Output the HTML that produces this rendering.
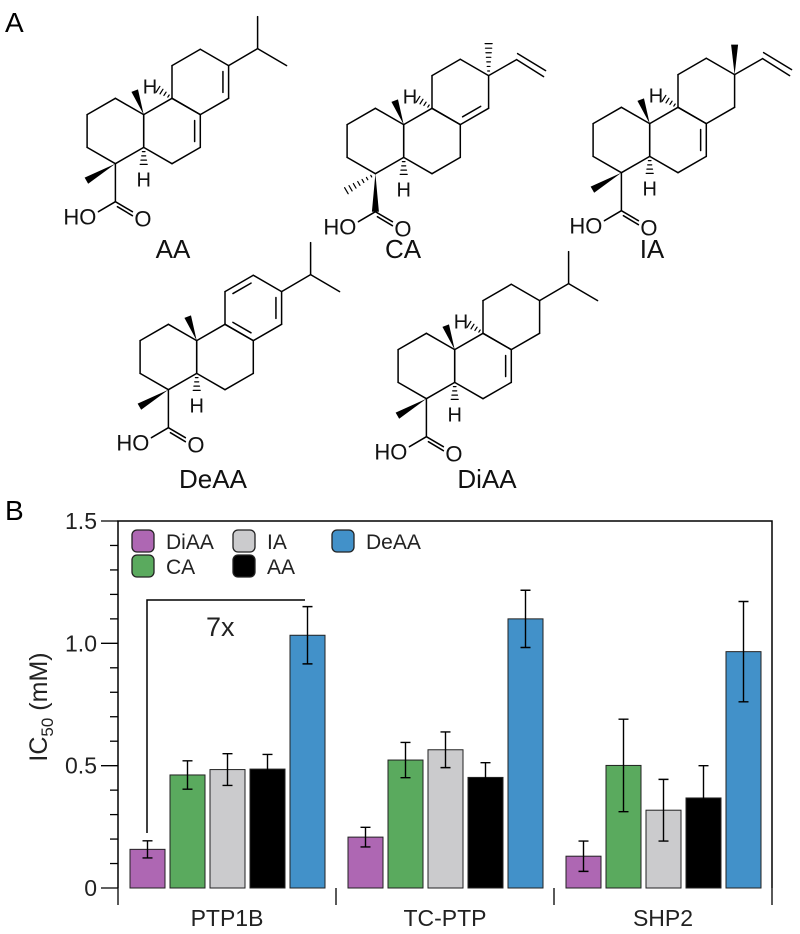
<!DOCTYPE html>
<html><head><meta charset="utf-8"><style>
html,body{margin:0;padding:0;background:#fff;}
svg{display:block;font-family:"Liberation Sans",sans-serif;}
</style></head><body>
<svg id="fig" width="800" height="934" viewBox="0 0 800 934" xmlns="http://www.w3.org/2000/svg">
<text x="5" y="32" font-size="28">A</text>
<text x="5" y="520" font-size="28">B</text>
<g id="mols"></g>
<g id="chart"></g>
</svg>
<script>
// ---------- chart data ----------
const categories = ['PTP1B','TC-PTP','SHP2'];
const seriesNames = ['DiAA','CA','IA','AA','DeAA'];
const seriesColors = ['#ae67b3','#5aaa5e','#cbcbcd','#000000','#4291c9'];
const valDiAA = [0.158,0.208,0.130];
const valCA   = [0.462,0.523,0.501];
const valIA   = [0.484,0.565,0.318];
const valAA   = [0.486,0.452,0.368];
const valDeAA = [1.033,1.100,0.966];
const errDiAA = [0.035,0.040,0.062];
const errCA   = [0.058,0.072,0.189];
const errIA   = [0.065,0.073,0.126];
const errAA   = [0.060,0.060,0.132];
const errDeAA = [0.117,0.117,0.205];
const yTicks = ['0','0.5','1.0','1.5'];

const NS='http://www.w3.org/2000/svg';
function mk(parent,tag,attrs){const e=document.createElementNS(NS,tag);for(const k in attrs)e.setAttribute(k,attrs[k]);parent.appendChild(e);return e;}

const chart=document.getElementById('chart');
const X0=118,X1=772,Y0=888,YT=521;
const yS=v=>Y0-(v/1.5)*(Y0-YT);
const gW=(X1-X0)/categories.length;
const xBar=(g,s)=>X0+g*gW+12+s*40;
const BW=35;
let fr=mk(chart,'path',{d:`M${X0} ${Y0}V${YT}H${X1}V${Y0}`,fill:'none',stroke:'#000','stroke-width':1.5});


for(let i=0;i<=15;i++){
  const y=yS(i/10);const maj=i%5===0;
  const t=mk(chart,'line',{x1:maj?X0-17:X0-8,x2:X0,y1:y,y2:y,stroke:'#000','stroke-width':1.3});
  
  
}
yTicks.forEach(l=>{
  const t=mk(chart,'text',{x:97,y:yS(parseFloat(l))+8,'font-size':23,'text-anchor':'end',fill:'#222'});
  t.textContent=l;
  
  
});
const vals=[valDiAA,valCA,valIA,valAA,valDeAA];
const errs=[errDiAA,errCA,errIA,errAA,errDeAA];
categories.forEach((c,g)=>{
  vals.forEach((arr,s)=>{
    const x=xBar(g,s),v=arr[g],e=errs[s][g];
    const r=mk(chart,'rect',{x:x,y:yS(v),width:BW,height:Y0-yS(v),fill:seriesColors[s],stroke:'#222','stroke-width':1});
    
    
    const cx=x+BW/2;
    const eb=mk(chart,'path',{d:`M${cx} ${yS(v+e)}V${yS(v-e)}M${cx-5} ${yS(v+e)}H${cx+5}M${cx-5} ${yS(v-e)}H${cx+5}`,stroke:'#000','stroke-width':1.4,fill:'none'});
    
    
  });
  const xt=mk(chart,'line',{x1:X0+(g+1)*gW,x2:X0+(g+1)*gW,y1:Y0,y2:Y0+17,stroke:'#000','stroke-width':1.3});
  
  
  const lb=mk(chart,'text',{x:X0+g*gW+gW/2,y:926,'font-size':23,'text-anchor':'middle',fill:'#222'});
  lb.textContent=c;
  
  
});
let x0t=mk(chart,'line',{x1:X0,x2:X0,y1:Y0,y2:Y0+17,stroke:'#000','stroke-width':1.3});


const yl=mk(chart,'text',{transform:'translate(47,707) rotate(-90)','font-size':25,'text-anchor':'middle',fill:'#222'});
yl.innerHTML='IC<tspan font-size="17" dy="6">50</tspan><tspan dy="-6"> (mM)</tspan>';


const legPos=[[132,530],[132,555],[233,530],[233,555],[332,530]];
seriesNames.forEach((n,s)=>{
  const [lx,ly]=legPos[s];
  const sw=mk(chart,'rect',{x:lx,y:ly,width:22,height:22,rx:5,fill:seriesColors[s],stroke:'#222','stroke-width':1.3});
  
  
  const t=mk(chart,'text',{x:lx+34,y:ly+19,'font-size':21,fill:'#222'});
  t.textContent=n;
  
  
});
const br=mk(chart,'path',{d:'M147 833V600H305',fill:'none',stroke:'#000','stroke-width':1.5});


const fx=mk(chart,'text',{x:206,y:636,'font-size':27,fill:'#222'});
fx.textContent='7x';



// ---------- structures ----------
const mols=document.getElementById('mols');
const hw=28.3,L=32.7;
function hex(cx,cy){return [[cx,cy-L],[cx+hw,cy-L/2],[cx+hw,cy+L/2],[cx,cy+L],[cx-hw,cy+L/2],[cx-hw,cy-L/2]];}
function ln(g,a,b,w){mk(g,'line',{x1:a[0],y1:a[1],x2:b[0],y2:b[1],stroke:'#000','stroke-width':w||1.5,'stroke-linecap':'round'});}
function ring(g,v){for(let i=0;i<6;i++)ln(g,v[i],v[(i+1)%6]);}
function inner(g,v,c,i,j){
  const p=v[i],q=v[j];const f=0.2;
  const p2=[p[0]+(c[0]-p[0])*f,p[1]+(c[1]-p[1])*f],q2=[q[0]+(c[0]-q[0])*f,q[1]+(c[1]-q[1])*f];
  const dx=q2[0]-p2[0],dy=q2[1]-p2[1],s=0.1;
  ln(g,[p2[0]+dx*s,p2[1]+dy*s],[q2[0]-dx*s,q2[1]-dy*s]);
}
function wedge(g,a,b){
  const dx=b[0]-a[0],dy=b[1]-a[1],len=Math.hypot(dx,dy),nx=-dy/len*3.5,ny=dx/len*3.5;
  mk(g,'polygon',{points:`${a[0]},${a[1]} ${b[0]+nx},${b[1]+ny} ${b[0]-nx},${b[1]-ny}`,fill:'#000'});
}
function hash(g,a,b,n){
  n=n||6;const dx=b[0]-a[0],dy=b[1]-a[1],len=Math.hypot(dx,dy);
  for(let k=1;k<=n;k++){const t=k/n,w=0.5+3*t;const px=a[0]+dx*t,py=a[1]+dy*t;const nx=-dy/len*w,ny=dx/len*w;
    ln(g,[px+nx,py+ny],[px-nx,py-ny],1.2);}
}
function txt(g,x,y,s,size,anchor){const t=mk(g,'text',{x:x,y:y,'font-size':size,'text-anchor':anchor||'start',fill:'#111'});t.textContent=s;return t;}
function mol(m){
  const g=mk(mols,'g',{});
  
  
  const bx=m.bx,by=m.by;
  const cB=[bx,by],cA=[bx-2*hw,by],cC=[bx+hw,by-1.5*L];
  const A=hex(...cA),B=hex(...cB),C=hex(...cC);
  ring(g,A);ring(g,B);ring(g,C);
  (m.dB||[]).forEach(p=>inner(g,B,cB,p[0],p[1]));
  (m.dC||[]).forEach(p=>inner(g,C,cC,p[0],p[1]));
  const C4a=B[5],C4b=B[0],C10a=B[4],C4=A[3];
  wedge(g,C4a,[C4a[0]-9,C4a[1]-24]);
  if(m.hC4b){hash(g,C4b,[C4b[0]-14,C4b[1]-9],4);txt(g,C4b[0]-22,C4b[1]-5,'H',20,'middle');}
  hash(g,C10a,[C10a[0],C10a[1]+17],4);txt(g,C10a[0],C10a[1]+39,'H',20,'middle');
  const Me=[C4[0]-29,C4[1]+17],CC=[C4[0],C4[1]+38];
  if(m.caStyle){hash(g,C4,Me,7);wedge(g,C4,CC);} else {wedge(g,C4,Me);ln(g,C4,CC);}
  ln(g,CC,[CC[0]-17,CC[1]+10]);
  ln(g,CC,[CC[0]+17,CC[1]+10]);ln(g,[CC[0]+2,CC[1]+5],[CC[0]+17,CC[1]+14]);
  txt(g,CC[0]-19,CC[1]+23,'HO',22,'end');
  txt(g,CC[0]+19,CC[1]+25,'O',22,'start');
  const p=C[1];
  if(m.top==='ipr'){const ch=[p[0]+29,p[1]-17];ln(g,p,ch);ln(g,ch,[ch[0],ch[1]-32]);ln(g,ch,[ch[0]+29,ch[1]+17]);}
  else{
    if(m.top==='vinylHash')hash(g,p,[p[0],p[1]-32],7);else wedge(g,p,[p[0],p[1]-30]);
    const v1=[p[0]+28,p[1]-16],v2=[v1[0]+27,v1[1]+17];ln(g,p,v1);ln(g,v1,v2);ln(g,[v1[0]+1,v1[1]-6],[v2[0]+2,v2[1]-6]);
  }
  const lt=txt(g,m.lx,m.ly,m.name,26,'middle');
  
  
}
mol({name:'AA',bx:172,by:131,dB:[[1,2]],dC:[[1,2]],hC4b:true,top:'ipr',lx:173,ly:258});
mol({name:'CA',bx:432,by:141,dC:[[2,3]],hC4b:true,caStyle:true,top:'vinylHash',lx:403,ly:258});
mol({name:'IA',bx:678,by:140,dB:[[1,2]],hC4b:true,top:'vinylWedge',lx:652,ly:258});
mol({name:'DeAA',bx:225,by:357,dC:[[5,0],[1,2],[3,4]],hC4b:false,top:'ipr',lx:213,ly:488});
mol({name:'DiAA',bx:483,by:366,dB:[[1,2]],hC4b:true,top:'ipr',lx:487,ly:488});
</script>
</body></html>
